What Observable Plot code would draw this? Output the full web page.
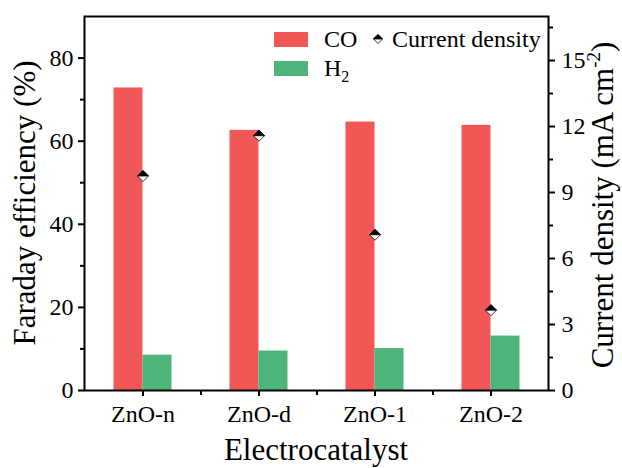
<!DOCTYPE html>
<html><head><meta charset="utf-8">
<script src="https://cdn.jsdelivr.net/npm/d3@7"></script>
<script src="https://cdn.jsdelivr.net/npm/@observablehq/plot@0.6"></script>
<style>body{margin:0;background:#fff} #chart{position:relative;width:622px;height:468px}</style>
</head><body><div id="chart"></div>
<script>
// ---- data ----
const categories = ["ZnO-n", "ZnO-d", "ZnO-1", "ZnO-2"];
const coFE = [72.8, 62.6, 64.6, 63.8];          // Faraday efficiency CO (%)
const h2FE = [8.5, 9.5, 10.1, 13.1];            // Faraday efficiency H2 (%)
const currentDensity = [9.75, 11.58, 7.08, 3.65]; // mA cm^-2
const leftTicks = [0, 20, 40, 60, 80];
const leftMinor = [10, 30, 50, 70];
const rightTicks = [0, 3, 6, 9, 12, 15];
const rightMinor = [1.5, 4.5, 7.5, 10.5, 13.5, 16.5];
const feMax = 90, jMax = 17;

// ---- build ----
const k = feMax / jMax;
const rows = categories.map((c, i) => ({cat: c, co: coFE[i], h2: h2FE[i], j: currentDensity[i]}));
const RED = "#F15757", GREEN = "#4DB57A";
const W = 622, H = 468, mL = 84, mR = 74, mT = 16, mB = 78;
const step = (W - mL - mR) / categories.length;
const bw = step / 4;

const diamond = {draw(ctx, size) {const r = Math.sqrt(size / Math.PI); ctx.moveTo(0, -r); ctx.lineTo(r, 0); ctx.lineTo(0, r); ctx.lineTo(-r, 0); ctx.closePath();}};
const topHalf = {draw(ctx, size) {const r = Math.sqrt(size / Math.PI); ctx.moveTo(0, -r); ctx.lineTo(r, 0); ctx.lineTo(-r, 0); ctx.closePath();}};

const font = "Liberation Serif, Times New Roman, serif";
const chart = Plot.plot({
  width: W, height: H,
  marginLeft: mL, marginRight: mR, marginTop: mT, marginBottom: mB,
  style: {fontFamily: font, fontSize: "24px", color: "black", background: "white"},
  x: {type: "band", domain: categories, paddingInner: 0.75, paddingOuter: 0.375, axis: null},
  y: {domain: [0, feMax], axis: null},
  marks: [
    Plot.barY(rows, {x: "cat", y: "co", fill: RED, dx: -bw / 2}),
    Plot.barY(rows, {x: "cat", y: "h2", fill: GREEN, dx: bw / 2}),
    Plot.axisY(leftTicks, {anchor: "left", tickSize: 6, tickPadding: 5, strokeWidth: 2, fontSize: 24, fill: "black", label: null, tickFormat: d => String(d)}),
    Plot.axisY(leftMinor, {anchor: "left", tickSize: 4, strokeWidth: 2, text: null, label: null}),
    Plot.axisY(rightTicks.map(v => v * k), {anchor: "right", tickSize: 6, tickPadding: 7, strokeWidth: 2, fontSize: 24, fill: "black", label: null, tickFormat: d => String(Math.round(d / k))}),
    Plot.axisY(rightMinor.map(v => v * k), {anchor: "right", tickSize: 4, strokeWidth: 2, text: null, label: null}),
    Plot.axisX(categories, {anchor: "bottom", tickSize: 6, tickPadding: 8, strokeWidth: 2, fontSize: 24, fill: "black", label: null}),
    Plot.axisX(categories.slice(0, -1), {anchor: "bottom", tickSize: 5, strokeWidth: 2, text: null, label: null, dx: step / 2}),
    Plot.frame({stroke: "black", strokeWidth: 2}),
    Plot.dot(rows, {x: "cat", y: d => d.j * k, symbol: diamond, r: 5.5, fill: "white", stroke: "black", strokeWidth: 0.8}),
    Plot.dot(rows, {x: "cat", y: d => d.j * k, symbol: topHalf, r: 5.5, fill: "black", stroke: "black", strokeWidth: 0.8})
  ]
});
document.getElementById("chart").appendChild(chart);

// ---- titles and legend (text) ----
const svg = d3.select(chart);
const g = svg.append("g").attr("font-family", font).style("fill", "#000").attr("text-anchor", "start");
const txt = (sel) => sel.style("fill", "#000").style("stroke", "none");
txt(g.append("text")).attr("transform", "translate(35,203) rotate(-90)").attr("text-anchor", "middle").attr("font-size", 31).text("Faraday efficiency (%)");
const rt = txt(g.append("text")).attr("transform", "translate(613,205) rotate(-90)").attr("text-anchor", "middle").attr("font-size", 31);
rt.append("tspan").text("Current density (mA cm");
rt.append("tspan").attr("font-size", 19).attr("dy", -13).text("-2");
rt.append("tspan").attr("dy", 13).text(")");
txt(g.append("text")).attr("x", 316).attr("y", 460).attr("text-anchor", "middle").attr("font-size", 31).text("Electrocatalyst");

// legend
const lg = g.append("g");
lg.append("rect").attr("x", 274).attr("y", 32).attr("width", 34).attr("height", 15).style("fill", RED);
lg.append("rect").attr("x", 274).attr("y", 61).attr("width", 34).attr("height", 15).style("fill", GREEN);
txt(lg.append("text")).attr("x", 324).attr("y", 47).attr("text-anchor", "start").attr("font-size", 24).text("CO");
const h2t = txt(lg.append("text")).attr("x", 324).attr("y", 76).attr("text-anchor", "start").attr("font-size", 24);
h2t.append("tspan").text("H");
h2t.append("tspan").attr("font-size", 16).attr("dy", 6).text("2");
const dsym = d3.symbol().size(Math.PI * 4.5 * 4.5);
lg.append("path").attr("transform", "translate(378,39)").attr("d", dsym.type(diamond)()).style("fill", "white").style("stroke", "black").attr("stroke-width", 0.8);
lg.append("path").attr("transform", "translate(378,39)").attr("d", dsym.type(topHalf)()).style("fill", "black").style("stroke", "black").attr("stroke-width", 0.8);
txt(lg.append("text")).attr("x", 392).attr("y", 47).attr("text-anchor", "start").attr("font-size", 24).text("Current density");
</script>
</body></html>
